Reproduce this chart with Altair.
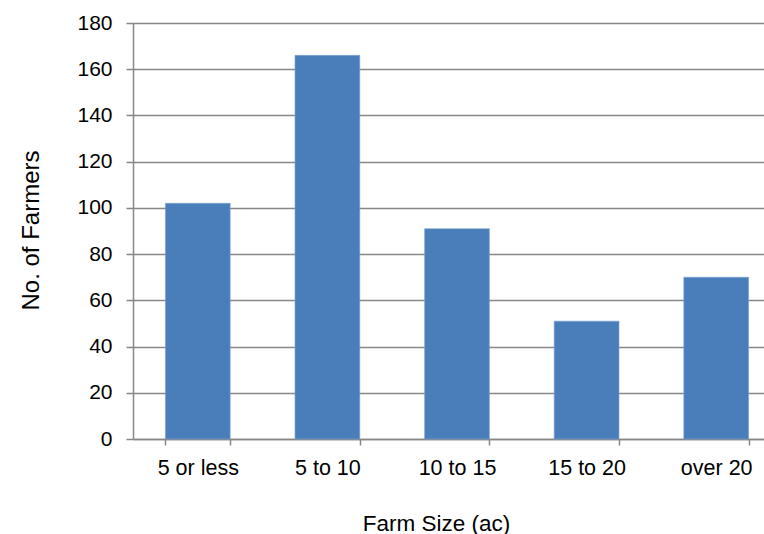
import altair as alt
import pandas as pd

categories = ["5 or less", "5 to 10", "10 to 15", "15 to 20", "over 20"]
farmers = [102, 166, 91, 51, 70]
y_ticks = [0, 20, 40, 60, 80, 100, 120, 140, 160, 180]

df = pd.DataFrame({"size": categories, "count": farmers})

GRAY = "#878787"
FONT = "Liberation Sans"

bars = alt.Chart(df).mark_bar(
    color="#4a7ebb", stroke="#7ea3d3", strokeWidth=0.6
).encode(
    x=alt.X(
        "size:N",
        sort=categories,
        scale=alt.Scale(range=[0, 648], paddingInner=0.5, paddingOuter=0.25),
        axis=alt.Axis(
            title="Farm Size (ac)",
            labelAngle=0,
            labelFontSize=21.5,
            labelColor="black",
            labelPadding=12,
            labelFont=FONT,
            tickSize=6,
            tickColor=GRAY,
            tickWidth=1.5,
            tickBand="extent",
            domainColor=GRAY,
            domainWidth=1.5,
            grid=False,
            titleFont=FONT,
            titleFontSize=22.5,
            titleFontWeight="normal",
            titleColor="black",
            titleX=303,
            titleY=91,
            titleAnchor="start",
            titleAlign="center",
            titleBaseline="alphabetic",
        ),
    ),
    y=alt.Y(
        "count:Q",
        scale=alt.Scale(domain=[0, 180], nice=False),
        axis=alt.Axis(
            title="No. of Farmers",
            values=y_ticks,
            labelFontSize=21,
            labelColor="black",
            labelFont=FONT,
            labelPadding=14,
            tickSize=7,
            tickColor=GRAY,
            tickWidth=1.5,
            domainColor=GRAY,
            domainWidth=1.5,
            gridColor=GRAY,
            gridWidth=1.5,
            titleFont=FONT,
            titleFontSize=24,
            titleFontWeight="normal",
            titleColor="black",
            titleAngle=270,
            titleX=-102,
            titleY=207,
            titleAnchor="start",
            titleAlign="center",
            titleBaseline="middle",
        ),
    ),
)

chart = bars.properties(
    width=631,
    height=416,
    autosize=alt.AutoSizeParams(type="none"),
    padding={"left": 133, "top": 23, "right": 0, "bottom": 95},
    background="white",
).configure_view(stroke=None)

chart.save("out.html", embed_options={"renderer": "svg", "actions": False})
